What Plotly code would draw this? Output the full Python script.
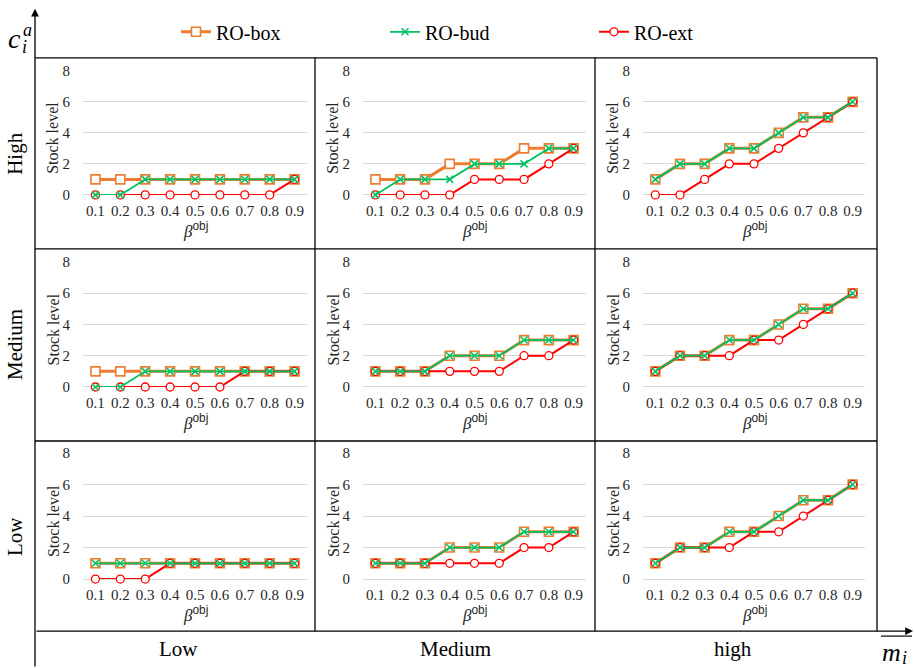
import plotly.graph_objects as go

W, H = 914, 668
V_SCALE = 0.9756   # vertical layout scale
V_SHIFT = 7.2      # vertical layout shift (px)

beta = ["0.1", "0.2", "0.3", "0.4", "0.5", "0.6", "0.7", "0.8", "0.9"]
y_ticks = [0, 2, 4, 6, 8]
row_labels = ["High", "Medium", "Low"]
col_labels = ["Low", "Medium", "high"]
series_names = ["RO-box", "RO-bud", "RO-ext"]

# stock level by beta^obj; rows = c_i^a level, columns = m_i level
box_high_low = [1, 1, 1, 1, 1, 1, 1, 1, 1]
bud_high_low = [0, 0, 1, 1, 1, 1, 1, 1, 1]
ext_high_low = [0, 0, 0, 0, 0, 0, 0, 0, 1]

box_high_med = [1, 1, 1, 2, 2, 2, 3, 3, 3]
bud_high_med = [0, 1, 1, 1, 2, 2, 2, 3, 3]
ext_high_med = [0, 0, 0, 0, 1, 1, 1, 2, 3]

box_high_high = [1, 2, 2, 3, 3, 4, 5, 5, 6]
bud_high_high = [1, 2, 2, 3, 3, 4, 5, 5, 6]
ext_high_high = [0, 0, 1, 2, 2, 3, 4, 5, 6]

box_med_low = [1, 1, 1, 1, 1, 1, 1, 1, 1]
bud_med_low = [0, 0, 1, 1, 1, 1, 1, 1, 1]
ext_med_low = [0, 0, 0, 0, 0, 0, 1, 1, 1]

box_med_med = [1, 1, 1, 2, 2, 2, 3, 3, 3]
bud_med_med = [1, 1, 1, 2, 2, 2, 3, 3, 3]
ext_med_med = [1, 1, 1, 1, 1, 1, 2, 2, 3]

box_med_high = [1, 2, 2, 3, 3, 4, 5, 5, 6]
bud_med_high = [1, 2, 2, 3, 3, 4, 5, 5, 6]
ext_med_high = [1, 2, 2, 2, 3, 3, 4, 5, 6]

box_low_low = [1, 1, 1, 1, 1, 1, 1, 1, 1]
bud_low_low = [1, 1, 1, 1, 1, 1, 1, 1, 1]
ext_low_low = [0, 0, 0, 1, 1, 1, 1, 1, 1]

box_low_med = [1, 1, 1, 2, 2, 2, 3, 3, 3]
bud_low_med = [1, 1, 1, 2, 2, 2, 3, 3, 3]
ext_low_med = [1, 1, 1, 1, 1, 1, 2, 2, 3]

box_low_high = [1, 2, 2, 3, 3, 4, 5, 5, 6]
bud_low_high = [1, 2, 2, 3, 3, 4, 5, 5, 6]
ext_low_high = [1, 2, 2, 2, 3, 3, 4, 5, 6]

panels = [
    [(box_high_low, bud_high_low, ext_high_low),
     (box_high_med, bud_high_med, ext_high_med),
     (box_high_high, bud_high_high, ext_high_high)],
    [(box_med_low, bud_med_low, ext_med_low),
     (box_med_med, bud_med_med, ext_med_med),
     (box_med_high, bud_med_high, ext_med_high)],
    [(box_low_low, bud_low_low, ext_low_low),
     (box_low_med, bud_low_med, ext_low_med),
     (box_low_high, bud_low_high, ext_low_high)],
]

SERIF = "Times New Roman, Liberation Serif, DejaVu Serif, serif"
ORANGE = "#ED7D31"
GREEN = "#00C060"
RED = "#FF0000"
GRID = "#D9D9D9"
TXT = "#262626"


def px(x):
    return x / W


def fy(y):
    # page y (px) -> layout y (px)
    return (y - V_SHIFT) / V_SCALE


def py(y):
    return 1 - fy(y) / H


# plot-area pixel extents for each column / row
col_px = [(83, 307), (363, 586), (643, 865)]
row_px = [(70, 194), (261, 386), (452, 578)]
# panel cell borders
cell_x = [35, 315, 595, 877]
cell_y = [57, 248, 440, 630]

styles = {
    "RO-box": dict(line=dict(color=ORANGE, width=3),
                   marker=dict(symbol="square", size=9, color="white",
                               line=dict(color=ORANGE, width=1.6))),
    "RO-bud": dict(line=dict(color=GREEN, width=1.8),
                   marker=dict(symbol="x-thin", size=7, color=GREEN,
                               line=dict(color=GREEN, width=1.5))),
    "RO-ext": dict(line=dict(color=RED, width=2),
                   marker=dict(symbol="circle", size=8, color="white",
                               line=dict(color=RED, width=1.3))),
}
legend_rank = {"RO-box": 1, "RO-bud": 2, "RO-ext": 3}

fig = go.Figure()
annotations = []
layout_axes = {}

for r in range(3):
    for c in range(3):
        k = r * 3 + c + 1
        xa = "x" if k == 1 else f"x{k}"
        ya = "y" if k == 1 else f"y{k}"
        box, bud, ext = panels[r][c]
        vals = {"RO-box": box, "RO-bud": bud, "RO-ext": ext}
        # draw order: box underneath, then ext, bud on top
        for name in ["RO-box", "RO-ext", "RO-bud"]:
            fig.add_trace(go.Scatter(
                x=beta, y=vals[name], name=name, mode="lines+markers",
                xaxis=xa, yaxis=ya, cliponaxis=False,
                showlegend=(k == 1), legendrank=legend_rank[name],
                **styles[name]))
        x0, x1 = col_px[c]
        y0, y1 = row_px[r]
        layout_axes["xaxis" if k == 1 else f"xaxis{k}"] = dict(
            domain=[px(x0), px(x1)], anchor=ya, type="category",
            categoryorder="array", categoryarray=beta, range=[-0.5, 8.5],
            showgrid=False, showline=False, zeroline=False, ticks="",
            tickfont=dict(family=SERIF, size=15, color=TXT),
            ticklabelstandoff=5)
        layout_axes["yaxis" if k == 1 else f"yaxis{k}"] = dict(
            domain=[py(y1), py(y0)], anchor=xa, range=[0, 8],
            tickvals=y_ticks, showgrid=True, gridcolor=GRID, gridwidth=1,
            zeroline=True, zerolinecolor=GRID, zerolinewidth=1,
            showline=False, ticks="",
            tickfont=dict(family=SERIF, size=15, color=TXT),
            ticklabelstandoff=12)
        # axis titles
        annotations.append(dict(
            text="Stock level", x=px(x0 - 30), y=py((y0 + y1) / 2 + 5),
            xref="paper", yref="paper", showarrow=False, textangle=-90,
            font=dict(family=SERIF, size=16, color=TXT),
            xanchor="center", yanchor="middle"))
        annotations.append(dict(
            text="<i>β</i><sup><span style='font-family:Liberation Sans'>obj</span></sup>",
            x=px((x0 + x1) / 2), y=py(y1 + 35),
            xref="paper", yref="paper", showarrow=False,
            font=dict(family=SERIF, size=17, color=TXT),
            xanchor="center", yanchor="middle"))

# row and column group labels
row_centers = [152, 344, 535]
for lab, yc in zip(row_labels, row_centers):
    annotations.append(dict(
        text=lab, x=px(15), y=py(yc), xref="paper", yref="paper",
        showarrow=False, textangle=-90,
        font=dict(family=SERIF, size=21, color="black"),
        xanchor="center", yanchor="middle"))
col_centers = [178, 455, 733]
for lab, xc in zip(col_labels, col_centers):
    annotations.append(dict(
        text=lab, x=px(xc), y=py(648), xref="paper", yref="paper",
        showarrow=False, font=dict(family=SERIF, size=21, color="black"),
        xanchor="center", yanchor="middle"))

# axis symbols c_i^a and m_i
symbols = [
    dict(text="<i>c</i>", x=px(15), y=py(38), font=dict(family=SERIF, size=28)),
    dict(text="<i>a</i>", x=px(27), y=py(29), font=dict(family=SERIF, size=18)),
    dict(text="<i>i</i>", x=px(24), y=py(46), font=dict(family=SERIF, size=18)),
    dict(text="<i>m</i>", x=px(891), y=py(651), font=dict(family=SERIF, size=26)),
    dict(text="<i>i</i>", x=px(904), y=py(657), font=dict(family=SERIF, size=18)),
]
for a in symbols:
    a.update(xref="paper", yref="paper", showarrow=False,
             xanchor="center", yanchor="middle")
    a["font"]["color"] = "black"
annotations += symbols

# axis arrows
tip_y = 8
annotations.append(dict(x=px(35), y=py(tip_y), ax=0, ay=H - fy(tip_y) + 12,
                        xref="paper", yref="paper", axref="pixel", ayref="pixel",
                        showarrow=True, arrowhead=2, arrowsize=1.2,
                        arrowwidth=1.3, arrowcolor="black", text=""))
annotations.append(dict(x=px(913), y=py(630), ax=-878, ay=0,
                        xref="paper", yref="paper", axref="pixel", ayref="pixel",
                        showarrow=True, arrowhead=2, arrowsize=1.2,
                        arrowwidth=1.3, arrowcolor="black", text=""))

shapes = []
line_style = dict(color="black", width=1.3)
# horizontal cell borders
for yv in cell_y[:-1]:
    shapes.append(dict(type="line", xref="paper", yref="paper",
                       x0=px(cell_x[0]), x1=px(cell_x[-1]), y0=py(yv), y1=py(yv),
                       line=line_style))
# vertical cell borders
for xv in cell_x[1:]:
    shapes.append(dict(type="line", xref="paper", yref="paper",
                       x0=px(xv), x1=px(xv), y0=py(cell_y[0]), y1=py(cell_y[-1]),
                       line=line_style))
# overline on m_i
shapes.append(dict(type="line", xref="paper", yref="paper",
                   x0=px(881), x1=px(912), y0=py(635), y1=py(635),
                   line=dict(color="black", width=1.2)))

fig.update_layout(
    width=W, height=H, margin=dict(l=0, r=0, t=0, b=0),
    paper_bgcolor="white", plot_bgcolor="white",
    font=dict(family=SERIF, color=TXT),
    showlegend=True,
    legend=dict(orientation="h", x=px(176), y=py(31), xanchor="left",
                yanchor="middle", itemwidth=30, entrywidth=164,
                entrywidthmode="pixels",
                font=dict(family=SERIF, size=20, color="black"),
                bgcolor="rgba(0,0,0,0)", traceorder="normal"),
    annotations=annotations, shapes=shapes,
    **layout_axes,
)

fig.write_html("out.html")
